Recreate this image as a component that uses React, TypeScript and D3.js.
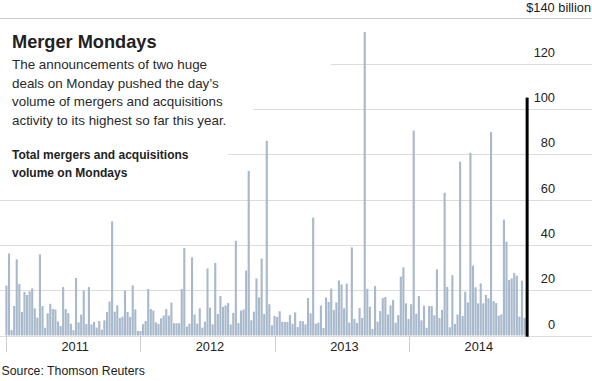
import React from "react";
import * as d3 from "d3";

// ---- data (billions of dollars, weekly Monday M&A volume) ----
const vol2011 = [22, 36.2, 2.4, 13, 33.6, 22.7, 10.4, 19.2, 17.9, 19.5, 20.8, 12, 7.9, 35.8, 13, 3.4, 9.8, 14, 11.7, 11.5, 6.2, 4.2, 21.4, 11.7, 9.9, 5.2, 2.4, 25.4, 5.8, 9.2, 19.8, 5.1, 21.4, 4.9, 6, 3.5, 6.4, 2.6, 6.7, 10.4, 15, 50.4, 10.5, 13.3, 7.7, 8.3, 19.8, 10.4, 8.2, 22.1, 11.5, 2];
const vol2012 = [2, 5, 6.4, 20.5, 11.7, 11, 5.8, 5.1, 7.6, 8.8, 11.7, 8.8, 14.5, 5.4, 5.4, 5.4, 20.5, 38.6, 4, 5.2, 34.5, 9.3, 5.2, 12, 3.5, 6.1, 29.6, 12.3, 4.9, 32, 9.5, 17.4, 12.6, 13.3, 14.3, 4.9, 10, 41.8, 5.5, 11, 11.5, 28.7, 72.6, 6.7, 10.5, 25.2, 16.8, 34, 9.5, 85.9, 13.8, 4.5, 8.6];
const vol2013 = [8.2, 10.7, 6.1, 6, 6, 9, 5.2, 10.2, 3.8, 6.4, 6.3, 4.9, 16.5, 9.8, 52, 5.2, 5.7, 13.2, 3.3, 16.8, 14.8, 20.7, 11.3, 14.6, 24.3, 22.6, 12, 22.9, 5.7, 38.9, 7.3, 5.5, 12.1, 7.7, 134, 20.6, 12.7, 2.9, 21.8, 6.1, 10.8, 16.5, 17, 9.3, 13.3, 15.7, 5.7, 9, 26, 30.1, 14.2, 7.3];
const vol2014 = [13.8, 90.4, 9.6, 17.4, 6.7, 13.2, 3.4, 13, 13, 8.9, 29.2, 7.7, 11.3, 63, 21.4, 3.6, 26.6, 5.1, 9.2, 76.7, 8.6, 19.3, 14.6, 80.6, 30.8, 21.3, 14.2, 23, 14.2, 17.9, 16.4, 89.8, 15.2, 14.3, 8.8, 9.3, 51.1, 41.4, 24.5, 25.2, 27.6, 26.4, 8.3, 24.2, 7.8, 105];
const firstMonday = new Date(2011, 0, 3);
const lastMondayExclusive = new Date(2014, 10, 18);
const yearLabels = ["2011", "2012", "2013", "2014"];
const yTicks = [0, 20, 40, 60, 80, 100, 120, 140];
const title = "Merger Mondays";
const bodyLines = [
  "The announcements of two huge",
  "deals on Monday pushed the day\u2019s",
  "volume of mergers and acquisitions",
  "activity to its highest so far this year.",
];
const subLines = ["Total mergers and acquisitions", "volume on Mondays"];
const source = "Source: Thomson Reuters";

// ---- layout ----
const W = 592;
const H = 381;
const gridStart: Record<number, number> = { 0: 0, 20: 0, 40: 0, 60: 0, 80: 228, 100: 253, 120: 331, 140: 0 };
const FONT = "'Liberation Sans', Arial, sans-serif";

export default function App() {
  const values = [...vol2011, ...vol2012, ...vol2013, ...vol2014];
  const dates = d3.timeMonday.range(firstMonday, lastMondayExclusive);
  const data = dates.map((d, i) => ({ date: d, value: values[i] ?? 0 }));

  const x = d3
    .scaleTime()
    .domain([new Date(2011, 0, 1), new Date(2015, 0, 1)])
    .range([5.7, 543.7]);
  const y = d3.scaleLinear().domain([0, 140]).range([335.5, 18.3]);
  const step = x(new Date(2011, 0, 10)) - x(new Date(2011, 0, 3));
  const bw = step - 0.45;

  const yearStarts = yearLabels.map((yl) => new Date(+yl, 0, 1));
  const midYears = yearLabels.map((yl) => new Date(+yl, 6, 2));

  return (
    <svg
      width={W}
      height={H}
      style={{ position: "absolute", left: 0, top: 0, background: "#fff" }}
      fontFamily={FONT}
    >
      {/* gridlines */}
      {yTicks.map((t) => (
        <line
          key={"g" + t}
          x1={gridStart[t]}
          x2={W}
          y1={Math.round(y(t)) + 0.5}
          y2={Math.round(y(t)) + 0.5}
          stroke={t === 140 ? "#cfcfcf" : "#dcdcdc"}
          strokeWidth={1}
        />
      ))}
      {/* bars */}
      {data.map((d, i) =>
        i === data.length - 1 ? (
          <rect
            key={i}
            x={x(d.date) - 1.5}
            y={y(d.value)}
            width={3}
            height={y(0) - y(d.value) + 1.2}
            fill="#000"
          />
        ) : (
          <rect
            key={i}
            x={x(d.date) - bw / 2}
            y={y(d.value)}
            width={bw}
            height={y(0) - y(d.value)}
            fill="#a9b9cc"
          />
        )
      )}
      {/* y labels */}
      {yTicks.map((t) =>
        t === 140 ? (
          <text key={"l" + t} x={591} y={y(t) - 6.8} textAnchor="end" fontSize={12.8} fill="#222">
            ${t} billion
          </text>
        ) : (
          <text key={"l" + t} x={555} y={y(t) - 6.8} textAnchor="end" fontSize={12.8} fill="#222">
            {t}
          </text>
        )
      )}
      {/* x axis ticks */}
      {yearStarts.map((d, i) => (
        <line
          key={"t" + i}
          x1={Math.round(x(d)) + 0.5}
          x2={Math.round(x(d)) + 0.5}
          y1={336}
          y2={352}
          stroke="#cccccc"
        />
      ))}
      {midYears.map((d, i) => (
        <text key={"y" + i} x={x(d) + 2.5} y={350.7} textAnchor="middle" fontSize={12.8} fill="#222">
          {yearLabels[i]}
        </text>
      ))}
      {/* titles */}
      <text x={12} y={48} fontSize={18.2} fontWeight="bold" fill="#222">
        {title}
      </text>
      {bodyLines.map((l, i) => (
        <text key={"b" + i} x={12} y={69 + i * 18.5} fontSize={13.4} fill="#2a2a2a">
          {l}
        </text>
      ))}
      {subLines.map((l, i) => (
        <text key={"s" + i} x={12} y={158.6 + i * 18.4} fontSize={12} fontWeight="bold" fill="#222">
          {l}
        </text>
      ))}
      <text x={1.5} y={375.4} fontSize={12.3} fill="#222">
        {source}
      </text>
    </svg>
  );
}
